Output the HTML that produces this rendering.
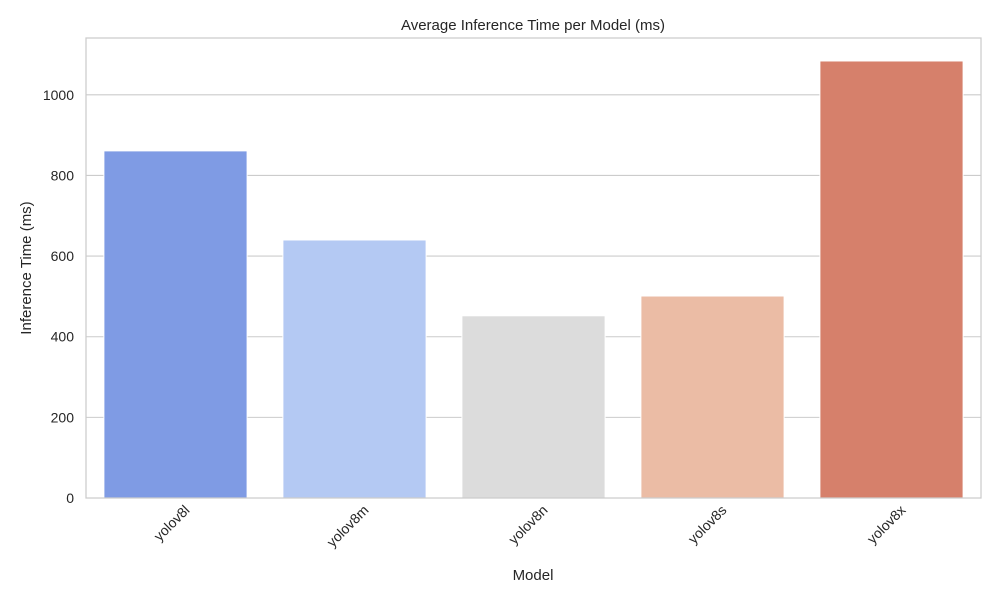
<!DOCTYPE html>
<html><head><meta charset="utf-8"><style>
body{margin:0;background:#fff;font-family:"Liberation Sans",sans-serif;}
</style></head><body>
<svg width="1000" height="600" xmlns="http://www.w3.org/2000/svg" id="chart" font-family="Liberation Sans, sans-serif">
<text x="533" y="30" text-anchor="middle" font-size="15" fill="#262626">Average Inference Time per Model (ms)</text>
<text x="533" y="580" text-anchor="middle" font-size="15" fill="#262626">Model</text>
<text transform="translate(31,268) rotate(-90)" text-anchor="middle" font-size="15" fill="#262626">Inference Time (ms)</text>
<g id="grid"></g><g id="bars"></g><g id="ticks"></g>
<rect x="86" y="38" width="895" height="460" fill="none" stroke="#cccccc" stroke-width="1.25"/>
</svg>
<script>
const categories=["yolov8l","yolov8m","yolov8n","yolov8s","yolov8x"];
const values=[861,640,452,501,1084];
const colors=["#7f9be4","#b4c9f3","#dcdcdc","#ebbca5","#d6806b"];
const yTicks=[0,200,400,600,800,1000];
const L=86,R=981,T=38,B=498,yMax=1141;
const ns="http://www.w3.org/2000/svg";
const y=v=>B-(v/yMax)*(B-T);
const band=(R-L)/categories.length;
const x=i=>L+band*(i+0.5);
function mk(t,a,p){const e=document.createElementNS(ns,t);for(const k in a)e.setAttribute(k,a[k]);p.appendChild(e);return e;}
const g=document.getElementById('grid'),bg=document.getElementById('bars'),tg=document.getElementById('ticks');
yTicks.forEach(v=>{
 const l=mk('line',{x1:L,x2:R,y1:y(v),y2:y(v),stroke:'#cccccc','stroke-width':1.1},g);
 
 
 const t=mk('text',{x:L-12,y:y(v)+5,'text-anchor':'end','font-size':14,fill:'#262626'},tg);
 t.textContent=v;
 
 
});
categories.forEach((c,i)=>{
 const w=band*0.8;
 const r=mk('rect',{x:x(i)-w/2,y:y(values[i]),width:w,height:B-y(values[i]),fill:colors[i],stroke:'#fff','stroke-width':1},bg);
 
 
 const t=mk('text',{transform:`translate(${x(i)+15},${B+13}) rotate(-45)`,'text-anchor':'end','font-size':14,fill:'#262626'},tg);
 t.textContent=c;
 
 
});
</script>
</body></html>
